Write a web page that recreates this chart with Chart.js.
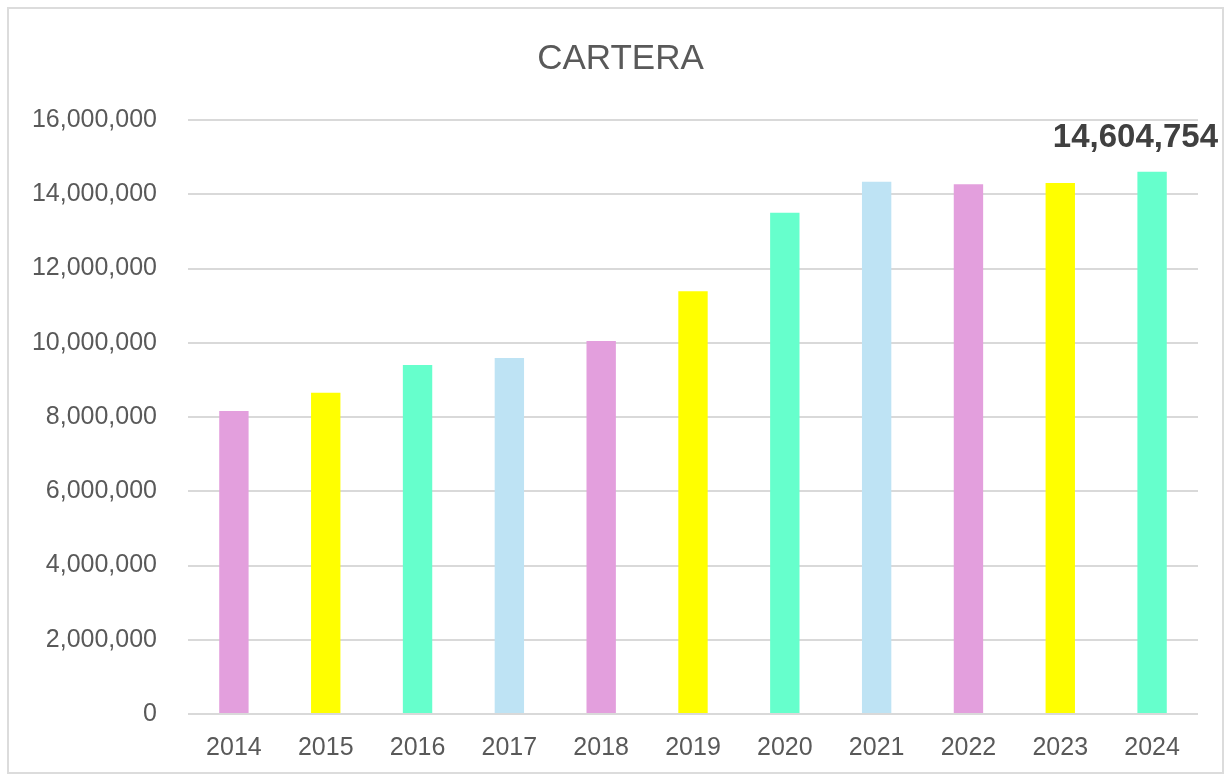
<!DOCTYPE html>
<html>
<head>
<meta charset="utf-8">
<script src="https://cdn.jsdelivr.net/npm/chart.js@4.4.1/dist/chart.umd.min.js"></script>
<style>
  html, body { margin: 0; padding: 0; background: #fff; }
  #frame { position: absolute; left: 7px; top: 7px; width: 1213px; height: 763px; border: 2px solid #dcdcdc; }
  #wrap { position: absolute; left: 0; top: 0; width: 1231px; height: 778px; }
</style>
</head>
<body>
<div id="frame"></div>
<div id="wrap"><canvas id="chart" width="1231" height="778"></canvas></div>
<script>
// data
const years = ['2014', '2015', '2016', '2017', '2018', '2019', '2020', '2021', '2022', '2023', '2024'];
const cartera = [8160000, 8650000, 9400000, 9590000, 10050000, 11390000, 13500000, 14340000, 14270000, 14300000, 14604754];
const yTicks = [0, 2000000, 4000000, 6000000, 8000000, 10000000, 12000000, 14000000, 16000000];

const barColors = ['#E39FDD', '#FFFF00', '#66FFCC', '#BEE3F4'];
const FONT = "'Liberation Sans', Arial, Helvetica, sans-serif";
const TITLE = 'CARTERA';

// title text centred on the whole frame (the built-in one only reserves the space)
const frameTitle = {
  id: 'frameTitle',
  afterDraw(chart) {
    const ctx = chart.ctx;
    const tb = chart.titleBlock;
    ctx.save();
    ctx.font = '35px ' + FONT;
    ctx.fillStyle = '#595959';
    ctx.textAlign = 'center';
    ctx.textBaseline = 'middle';
    ctx.fillText(TITLE, chart.width / 2 + 5, tb.top + 6 + 21);
    ctx.restore();
  }
};

// only the last bar gets a value label
const lastLabel = {
  id: 'lastLabel',
  afterDatasetsDraw(chart) {
    const ctx = chart.ctx;
    const meta = chart.getDatasetMeta(0);
    const i = cartera.length - 1;
    const bar = meta.data[i];
    const txt = cartera[i].toLocaleString('en-US');
    ctx.save();
    ctx.font = 'bold 33px ' + FONT;
    ctx.fillStyle = '#404040';
    ctx.textBaseline = 'middle';
    ctx.textAlign = 'center';
    let w = ctx.measureText(txt).width;
    let x = bar.x;
    if (x + w / 2 > chart.width - 13) x = chart.width - 13 - w / 2;
    ctx.fillText(txt, x, bar.y - 34);
    ctx.restore();
  }
};

new Chart(document.getElementById('chart'), {
  type: 'bar',
  data: {
    labels: years,
    datasets: [{
      data: cartera,
      backgroundColor: years.map((y, i) => barColors[i % barColors.length]),
      borderWidth: 0,
      categoryPercentage: 1.0,
      barPercentage: 0.32
    }]
  },
  options: {
    responsive: false,
    animation: false,
    layout: { padding: { top: 32, left: 1, right: 33, bottom: 4 } },
    plugins: {
      legend: { display: false },
      tooltip: { enabled: false },
      title: {
        display: true,
        text: TITLE,
        color: 'rgba(0,0,0,0)',
        font: { family: FONT, size: 35, weight: 'normal' },
        padding: { top: 6, bottom: 40 }
      }
    },
    scales: {
      x: {
        grid: { display: false },
        border: { display: false },
        ticks: { color: '#595959', font: { family: FONT, size: 25 }, padding: 11 }
      },
      y: {
        min: 0,
        max: 16000000,
        afterBuildTicks(scale) { scale.ticks = yTicks.map(v => ({ value: v })); },
        afterFit(scale) { scale.width = 187; },
        grid: { color: '#d9d9d9', lineWidth: 2, drawTicks: false },
        border: { display: false },
        ticks: {
          color: '#595959',
          font: { family: FONT, size: 25 },
          padding: 31,
          callback: v => v.toLocaleString('en-US')
        }
      }
    }
  },
  plugins: [lastLabel, frameTitle]
});
</script>
</body>
</html>
